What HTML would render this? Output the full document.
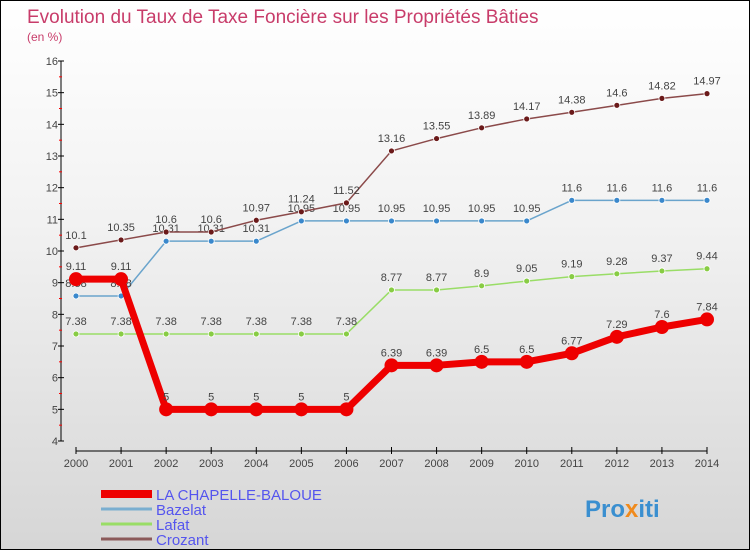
<!DOCTYPE html>
<html><head><meta charset="utf-8"><style>
body{margin:0;}
#c{width:750px;height:550px;position:relative;overflow:hidden;box-sizing:border-box;border:1px solid #000;background:linear-gradient(#ffffff,#f2f2f2 40%,#d6d6d6);font-family:"Liberation Sans",sans-serif;}
</style></head><body>
<div id="c">
<svg id="s" width="750" height="550" style="position:absolute;left:0;top:0">
<text x="26" y="22" font-size="19" fill="#c83c6a">Evolution du Taux de Taxe Foncière sur les Propriétés Bâties</text>
<text x="26" y="40" font-size="12" fill="#c83c6a">(en %)</text>
<g id="axes"></g><g id="series"></g><g id="legend"></g>
<text x="584" y="516" font-size="24" font-weight="bold" fill="#3a8fd0">Pro<tspan fill="#f08a1c">x</tspan>iti</text>
</svg>
</div>
<script>
const years=[2000,2001,2002,2003,2004,2005,2006,2007,2008,2009,2010,2011,2012,2013,2014];
const yTicks=[4,5,6,7,8,9,10,11,12,13,14,15,16];
const chapelle=[9.11,9.11,5,5,5,5,5,6.39,6.39,6.5,6.5,6.77,7.29,7.6,7.84];
const bazelat=[8.58,8.58,10.31,10.31,10.31,10.95,10.95,10.95,10.95,10.95,10.95,11.6,11.6,11.6,11.6];
const lafat=[7.38,7.38,7.38,7.38,7.38,7.38,7.38,8.77,8.77,8.9,9.05,9.19,9.28,9.37,9.44];
const crozant=[10.1,10.35,10.6,10.6,10.97,11.24,11.52,13.16,13.55,13.89,14.17,14.38,14.6,14.82,14.97];
const seriesNames=["LA CHAPELLE-BALOUE","Bazelat","Lafat","Crozant"];
const NS="http://www.w3.org/2000/svg";
function X(i){return 75+i*(706-75)/14;}
function Y(v){return 440-(v-4)*(380/12);}
function mk(p,t,a){const e=document.createElementNS(NS,t);for(const k in a)e.setAttribute(k,a[k]);p.appendChild(e);return e;}
const ax=document.getElementById('axes');
let e=mk(ax,'line',{x1:60,y1:60,x2:60,y2:440,stroke:'#000'});

e=mk(ax,'line',{x1:75,y1:450,x2:706,y2:450,stroke:'#000'});

yTicks.forEach((t,i)=>{mk(ax,'line',{x1:57,x2:63,y1:Y(t),y2:Y(t),stroke:'#000'});
 if(i<yTicks.length-1)mk(ax,'line',{x1:58,x2:61,y1:Y(t+0.5),y2:Y(t+0.5),stroke:'#f00'});
 const tx=mk(ax,'text',{x:57,y:Y(t)+4,'font-size':11,'text-anchor':'end',fill:'#444'});tx.textContent=t;
 });
years.forEach((y,i)=>{mk(ax,'line',{x1:X(i),x2:X(i),y1:446,y2:453,stroke:'#000'});
 const tx=mk(ax,'text',{x:X(i),y:466,'font-size':11,'text-anchor':'middle',fill:'#444'});tx.textContent=y;
 });
const sg=document.getElementById('series');
function draw(data,col,dot,w,r,name){
 const g=mk(sg,'g',{});
 mk(g,'polyline',{points:data.map((v,i)=>X(i)+','+Y(v)).join(' '),fill:'none',stroke:col,'stroke-width':w,'stroke-linejoin':'round'});
 data.forEach((v,i)=>{const c=mk(g,'circle',{cx:X(i),cy:Y(v),r:r,fill:dot,stroke:'#fff','stroke-width':r>4?0:0.8});
  
  const t=mk(g,'text',{x:X(i),y:Y(v)-9,'font-size':11,'text-anchor':'middle',fill:'#444'});t.textContent=v;});
}
draw(lafat,'#99dd66','#88cc44',1.5,3,'lafat-series');
draw(bazelat,'#6aa4cc','#3a88cc',1.5,3,'bazelat-series');
draw(crozant,'#8b4a4a','#6b1a1a',1.5,3,'crozant-series');
draw(chapelle,'#ee0000','#ee0000',7,7,'chapelle-series');
const lg=document.getElementById('legend');
const lc=['#ee0000','#7aaed0','#99dd66','#8b5a5a'],lw=[8,3,3,3];
seriesNames.forEach((n,i)=>{const y=493+i*15;
 const g=mk(lg,'g',{});
 mk(g,'line',{x1:100,x2:151,y1:y,y2:y,stroke:lc[i],'stroke-width':lw[i]});
 const t=mk(g,'text',{x:155,y:y+6,'font-size':15,fill:'#5555ee'});t.textContent=n;});
</script>
</body></html>
